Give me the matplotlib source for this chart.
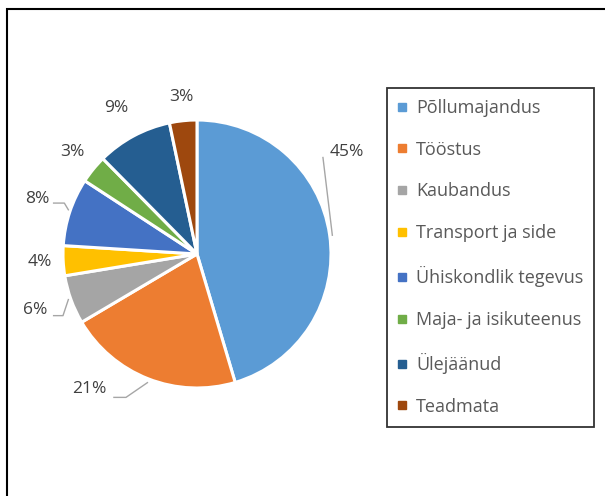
import matplotlib
matplotlib.use('Agg')
import matplotlib.pyplot as plt
from matplotlib.lines import Line2D
from matplotlib.patches import Rectangle

# Sector shares (%)
categories = ['Põllumajandus', 'Tööstus', 'Kaubandus', 'Transport ja side',
              'Ühiskondlik tegevus', 'Maja- ja isikuteenus', 'Ülejäänud', 'Teadmata']
shares = [45.4, 21.1, 5.9, 3.6, 8.2, 3.4, 9.1, 3.3]
colors = ['#5B9BD5', '#ED7D31', '#A5A5A5', '#FFC000',
          '#4472C4', '#70AD47', '#255E91', '#9E480E']

# label placement (pie radius units) and leader lines
label_pos = [(1.12, 0.76), (-0.80, -1.01), (-1.21, -0.42), (-1.17, -0.06),
             (-1.19, 0.41), (-0.93, 0.76), (-0.60, 1.09), (-0.12, 1.17)]
leaders = {
    0: [(1.01, 0.14), (0.94, 0.72)],
    1: [(-0.37, -0.96), (-0.53, -1.07), (-0.62, -1.07)],
    2: [(-0.96, -0.34), (-1.0, -0.46), (-1.07, -0.46)],
    4: [(-1.07, 0.38), (-0.99, 0.38), (-0.96, 0.33)],
}

plt.rcParams['font.family'] = ['Open Sans', 'DejaVu Sans']

W, H = 605, 496
fig = plt.figure(figsize=(W / 100, H / 100), dpi=100)

# pie axes: centre (197, 254), radius 134 px
cx, cy, r = 197, 254, 134
ax = fig.add_axes([(cx - r) / W, (H - cy - r) / H, 2 * r / W, 2 * r / H])
ax.pie(shares, colors=colors, startangle=90, counterclock=False,
       wedgeprops=dict(edgecolor='white', linewidth=2.2))
ax.set_xlim(-1, 1)
ax.set_ylim(-1, 1)
ax.set_aspect('equal')
ax.axis('off')

total = sum(shares)
for i, s in enumerate(shares):
    x, y = label_pos[i]
    ax.text(x, y, f'{round(s / total * 100):d}%', ha='center', va='center',
            fontsize=12.5, color='#404040', clip_on=False)
for i, pts in leaders.items():
    xs = [p[0] for p in pts]
    ys = [p[1] for p in pts]
    ax.plot(xs, ys, color='#A6A6A6', lw=1.0, clip_on=False)

handles = [Line2D([], [], marker='s', linestyle='none', markersize=5.5,
                  markerfacecolor=c, markeredgecolor=c) for c in colors]
leg = fig.legend(handles, categories, loc='upper left',
                 bbox_to_anchor=(387 / W, 1 - 88 / H), borderaxespad=0,
                 fontsize=13, labelcolor='#595959', frameon=True, fancybox=False,
                 edgecolor='black', labelspacing=1.32, handlelength=0.5,
                 handletextpad=0.5, borderpad=0.6)
leg.get_frame().set_linewidth(1.3)

# outer chart border (runs off the right and bottom edges)
fig.patches.append(Rectangle((7 / W, -0.1), 1.2, 1.1 - 9 / H, transform=fig.transFigure,
                             fill=False, edgecolor='black', linewidth=1.5))

fig.savefig('out.png', dpi=100)
